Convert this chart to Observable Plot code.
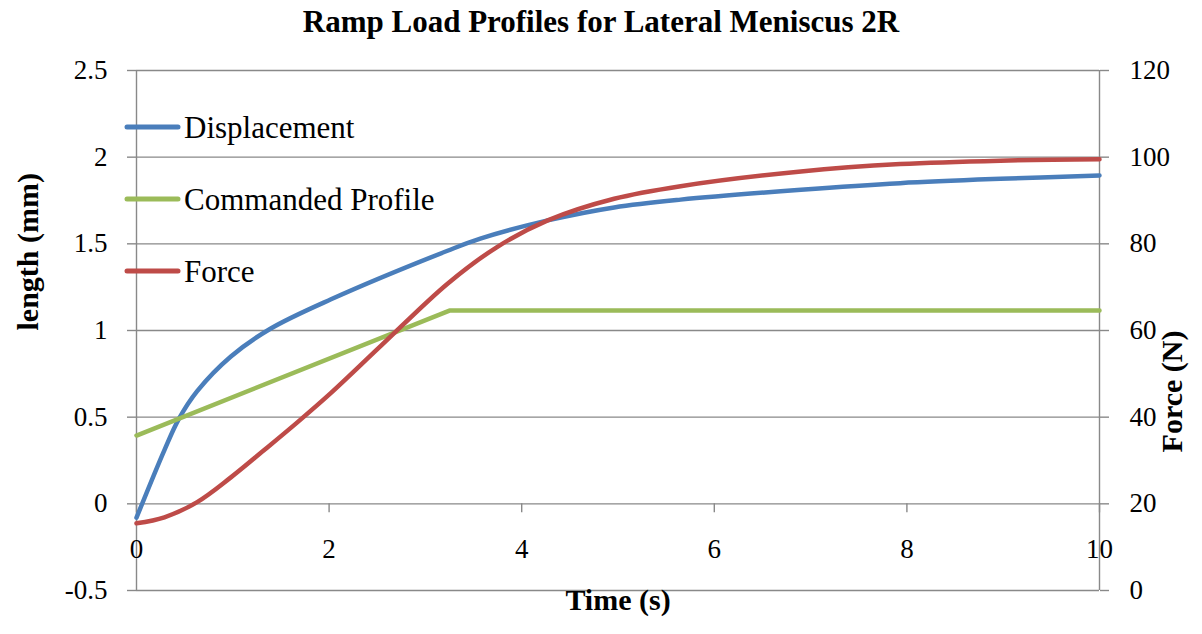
<!DOCTYPE html>
<html>
<head>
<meta charset="utf-8">
<script src="https://cdn.jsdelivr.net/npm/d3@7"></script>
<script src="https://cdn.jsdelivr.net/npm/@observablehq/plot@0.6"></script>
<style>
  body { margin: 0; background: #fff; font-family: "Liberation Serif", "Times New Roman", serif; }
  #title { width: 1202px; height: 44px; line-height: 44px; text-align: center; font-weight: bold; font-size: 31px; color: #000; }
  #wrap { position: relative; width: 1202px; height: 590px; }
  #wrap svg text { font-family: "Liberation Serif", "Times New Roman", serif; }
  #legend { position: absolute; left: 0; top: 0; pointer-events: none; }
</style>
</head>
<body>
<div id="title">Ramp Load Profiles for Lateral Meniscus 2R</div>
<div id="wrap"></div>
<script>
// ---- data ----
const dispTime  = [0, 0.29, 0.44, 0.63, 0.98, 1.39, 2.02, 3.23, 3.57, 4.27, 4.96, 5.65, 6.9, 7.93, 8.97, 10];
const dispValue = [-0.08, 0.31, 0.49, 0.65, 0.85, 1.01, 1.18, 1.46, 1.53, 1.635, 1.71, 1.755, 1.812, 1.85, 1.875, 1.894];

const cmdTime  = [0, 3.25, 10];
const cmdValue = [0.394, 1.115, 1.115];

const forceTime  = [0, 0.29, 0.63, 0.98, 1.32, 1.67, 2.02, 2.54, 3.23, 3.74, 4.27, 4.96, 5.65, 6.9, 7.93, 8.97, 10];
const forceValue = [15.5, 16.9, 20.4, 26.1, 32.3, 38.8, 45.6, 56.5, 70.8, 79.2, 85.4, 90.4, 93.3, 96.7, 98.4, 99.2, 99.5];

const leftTicks  = [-0.5, 0, 0.5, 1, 1.5, 2, 2.5];
const rightTicks = [0, 20, 40, 60, 80, 100, 120];
const xTicks     = [0, 2, 4, 6, 8, 10];

const seriesNames  = ["Displacement", "Commanded Profile", "Force"];
const seriesColors = ["#4A7EBB", "#9BBB59", "#BE4B48"];

// right axis (force, 0..120) mapped onto left axis domain (-0.5..2.5)
const leftDomain = [-0.5, 2.5], rightDomain = [0, 120];
const forceToLeft = f => leftDomain[0] + (f - rightDomain[0]) * (leftDomain[1] - leftDomain[0]) / (rightDomain[1] - rightDomain[0]);
const leftToForce = v => rightDomain[0] + (v - leftDomain[0]) * (rightDomain[1] - rightDomain[0]) / (leftDomain[1] - leftDomain[0]);

const disp  = dispTime.map((t, i) => ({t, v: dispValue[i]}));
const cmd   = cmdTime.map((t, i) => ({t, v: cmdValue[i]}));
const force = forceTime.map((t, i) => ({t, v: forceToLeft(forceValue[i])}));

const grid = "#898989";
const font = '"Liberation Serif", "Times New Roman", serif';

const chart = Plot.plot({
  width: 1202,
  height: 590,
  marginTop: 26,
  marginBottom: 44,
  marginLeft: 136,
  marginRight: 103,
  style: {fontFamily: font, background: "#fff", color: "#000"},
  x: {domain: [0, 10], axis: null},
  y: {domain: leftDomain, axis: null},
  marks: [
    Plot.ruleY(leftTicks, {y: d => d, stroke: grid, strokeWidth: 1.4}),
    Plot.ruleX([0, 10], {x: d => d, stroke: grid, strokeWidth: 1.4}),
    Plot.axisY({anchor: "left", ticks: leftTicks, tickFormat: d => String(d), tickSize: 9, tickPadding: 20,
                stroke: grid, strokeWidth: 1.4, fill: "#000", fontSize: 27, label: null}),
    Plot.axisY({anchor: "right", ticks: rightTicks.map(forceToLeft), tickFormat: v => String(Math.round(leftToForce(v))),
                tickSize: 9, tickPadding: 21, stroke: grid, strokeWidth: 1.4, fill: "#000", fontSize: 27, label: null}),
    Plot.ruleX(xTicks, {x: d => d, y1: 0, y2: -0.052, stroke: grid, strokeWidth: 1.4}),
    Plot.text(xTicks, {x: d => d, y: 0, dy: 46, text: d => String(d), fontSize: 27, fill: "#000"}),
    Plot.text(["Time (s)"], {frameAnchor: "bottom", dy: 19, text: d => d, fontSize: 30, fontWeight: "bold", fill: "#000"}),
    Plot.text(["length (mm)"], {frameAnchor: "left", dx: -108, rotate: -90, text: d => d, fontSize: 30, fontWeight: "bold", fill: "#000"}),
    Plot.text(["Force (N)"], {frameAnchor: "right", dx: 73, rotate: -90, text: d => d, fontSize: 30, fontWeight: "bold", fill: "#000"}),
    Plot.line(disp, {x: "t", y: "v", stroke: seriesColors[0], strokeWidth: 4.5, curve: "catmull-rom"}),
    Plot.line(cmd, {x: "t", y: "v", stroke: seriesColors[1], strokeWidth: 4.5}),
    Plot.line(force, {x: "t", y: "v", stroke: seriesColors[2], strokeWidth: 4.5, curve: "catmull-rom"})
  ]
});
document.getElementById("wrap").appendChild(chart);

// legend overlay (inside the plot, top-left)
const leg = d3.select("#wrap").append("svg").attr("id", "legend").attr("width", 500).attr("height", 300);
const rows = leg.selectAll("g").data(seriesNames).join("g")
  .attr("transform", (d, i) => `translate(0, ${83 + i * 72})`);
rows.append("line").attr("x1", 127).attr("x2", 178).attr("y1", 0).attr("y2", 0)
  .attr("stroke", (d, i) => seriesColors[i]).attr("stroke-width", 5).attr("stroke-linecap", "round");
rows.append("text").attr("x", 184).attr("y", 0).attr("dy", "0.35em")
  .style("font-family", font).attr("font-size", 31).attr("fill", "#000").text(d => d);
</script>
</body>
</html>
